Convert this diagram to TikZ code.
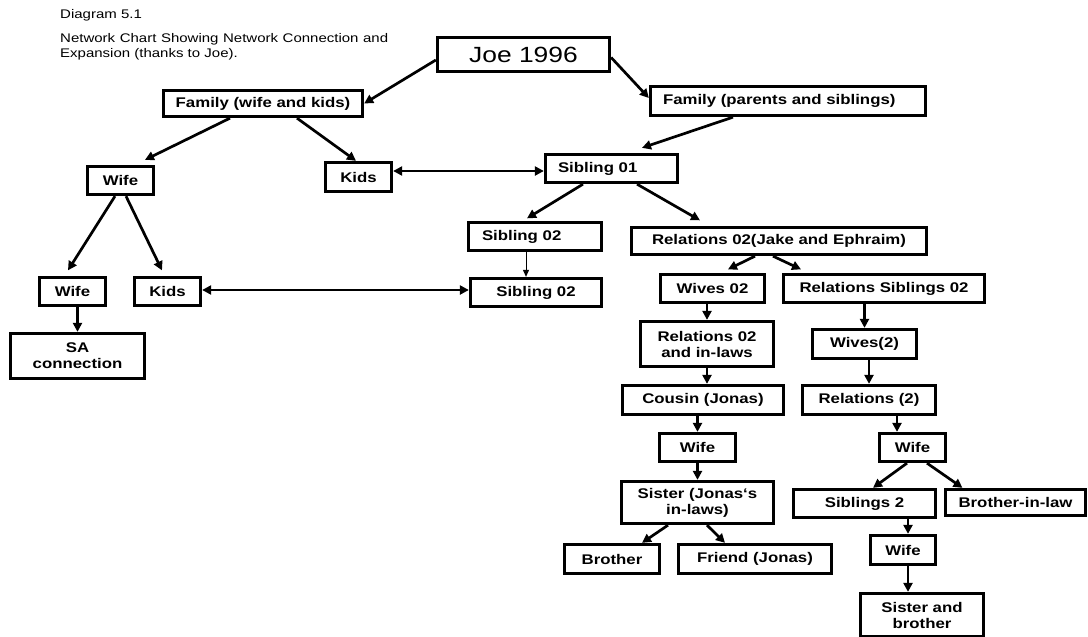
\documentclass[tikz,border=0pt]{standalone}
\usepackage{fontspec}
\setmainfont{Liberation Sans}[FakeStretch=1.2]
\usetikzlibrary{arrows.meta}

\begin{document}
\begin{tikzpicture}[x=1pt, y=-1pt, >={Triangle[length=9pt,width=9pt]},
	box/.style={draw=black, line width=3.3pt, inner sep=0pt, align=center, font=\bfseries\fontsize{14}{16}\selectfont},
	arr/.style={->, line width=2.7pt},
	dblarr/.style={<->, line width=2.7pt},
	thinarr/.style={-{Triangle[length=7pt,width=6pt]}, line width=1pt}]
	\useasboundingbox (0,0) rectangle (1088,637);

	\node[anchor=base west, inner sep=0pt, font=\fontsize{12.5}{15}\selectfont] (diag) at (60,19) {Diagram 5.1};
	\node[anchor=north west, inner sep=0pt, text width=328pt, align=justify, font=\fontsize{12.5}{15}\selectfont] (caption) at (60,33) {Network Chart Showing Network Connection and\linebreak Expansion (thanks to Joe).};

	\node[box, font=\fontsize{22}{26}\selectfont, minimum width=172pt, minimum height=34pt] (joe) at (523.5,54.5) {Joe 1996};
	\node[box, minimum width=199pt, minimum height=26pt] (famwk) at (263,103.5) {Family (wife and kids)};
	\node[box, minimum width=275pt, minimum height=29pt, text width=250pt, align=left] (fampar) at (788,101) {Family (parents and siblings)};
	\node[box, minimum width=66pt, minimum height=28pt] (wife1) at (120.5,180.5) {Wife};
	\node[box, minimum width=66pt, minimum height=29pt] (kids1) at (358.5,177) {Kids};
	\node[box, minimum width=132pt, minimum height=28pt, text width=107pt, align=left] (sib01) at (611.5,168.5) {Sibling 01};
	\node[box, minimum width=133pt, minimum height=28pt, text width=106pt, align=left] (sib02a) at (535,236.5) {Sibling 02};
	\node[box, minimum width=131pt, minimum height=28pt] (sib02b) at (536,292.5) {Sibling 02};
	\node[box, minimum width=295pt, minimum height=27pt] (rel02) at (779,241) {Relations 02(Jake and Ephraim)};
	\node[box, minimum width=66pt, minimum height=28pt] (wife2) at (72.5,291.5) {Wife};
	\node[box, minimum width=66pt, minimum height=28pt] (kids2) at (167.5,291.5) {Kids};
	\node[box, minimum width=134pt, minimum height=45pt] (sa) at (77.5,356) {SA\\connection};
	\node[box, minimum width=104pt, minimum height=28pt] (wives02) at (712.5,288.5) {Wives 02};
	\node[box, minimum width=201pt, minimum height=28pt] (relsib) at (884,288.5) {Relations Siblings 02};
	\node[box, minimum width=133pt, minimum height=45pt] (relinl) at (707,344) {Relations 02\\and in-laws};
	\node[box, minimum width=104pt, minimum height=29pt] (wives2) at (864.5,344) {Wives(2)};
	\node[box, minimum width=161pt, minimum height=29pt] (cousin) at (703,400) {Cousin (Jonas)};
	\node[box, minimum width=133pt, minimum height=29pt] (rel2) at (869,400) {Relations (2)};
	\node[box, minimum width=76pt, minimum height=28pt] (wife3) at (697.5,447.5) {Wife};
	\node[box, minimum width=66pt, minimum height=28pt] (wife4) at (912.5,447.5) {Wife};
	\node[box, minimum width=152pt, minimum height=42pt] (sister) at (697.5,502.5) {Sister (Jonas‘s\\in-laws)};
	\node[box, minimum width=142pt, minimum height=28pt] (sib2) at (864.5,503.5) {Siblings 2};
	\node[box, minimum width=140pt, minimum height=26pt] (bil) at (1015.5,502.5) {Brother-in-law};
	\node[box, minimum width=95pt, minimum height=29pt] (brother) at (612,559) {Brother};
	\node[box, minimum width=153pt, minimum height=29pt] (friend) at (755,559) {Friend (Jonas)};
	\node[box, minimum width=65pt, minimum height=29pt] (wife5) at (903,550) {Wife};
	\node[box, minimum width=123pt, minimum height=43pt] (sisbro) at (922,615) {Sister and\\brother};

	\path[arr] ([yshift=-5.5pt]joe.west) edge (famwk.east)
	         ([yshift=-3pt]joe.east) edge ([yshift=3pt]fampar.west)
	         ([xshift=-55pt]fampar.south) edge ([xshift=30.5pt,yshift=5pt]sib01.north)
	         ([xshift=-33pt]famwk.south) edge ([xshift=24.5pt,yshift=5pt]wife1.north)
	         ([xshift=34pt]famwk.south) edge ([xshift=-2.5pt]kids1.north)
	         ([xshift=-5.5pt]wife1.south) edge ([xshift=-4.5pt,yshift=5.5pt]wife2.north)
	         ([xshift=5.5pt]wife1.south) edge ([xshift=-5.5pt,yshift=5.5pt]kids2.north)
	         (wife2.south -| sa.north) edge (sa.north)
	         ([xshift=-28.5pt]sib01.south) edge ([xshift=-8pt,yshift=2.5pt]sib02a.north)
	         ([xshift=25.5pt]sib01.south) edge ([xshift=-79pt,yshift=5.5pt]rel02.north)
	         ([xshift=-24pt]rel02.south) edge ([xshift=15.5pt,yshift=3.5pt]wives02.north)
	         ([xshift=-6pt]rel02.south) edge ([xshift=-83pt,yshift=3.5pt]relsib.north)
	         (wives02.south -| relinl.north) edge (relinl.north)
	         (relsib.south -| wives2.north) edge (wives2.north)
	         (relinl.south) edge (relinl.south |- cousin.north)
	         (rel2.north |- wives2.south) edge (rel2.north)
	         (wife3.north |- cousin.south) edge (wife3.north)
	         ([xshift=-15.5pt]wife4.north |- rel2.south) edge ([xshift=-15.5pt]wife4.north)
	         (wife3.south) edge (sister.north)
	         ([xshift=-5.5pt]wife4.south) edge ([xshift=8.5pt]sib2.north)
	         ([xshift=14.5pt]wife4.south) edge ([xshift=-53pt]bil.north)
	         ([xshift=-29.5pt]sister.south) edge ([xshift=30pt]brother.north)
	         ([xshift=9.5pt]sister.south) edge ([xshift=-30pt]friend.north)
	         ([xshift=5pt]wife5.north |- sib2.south) edge ([xshift=5pt]wife5.north)
	         ([xshift=5pt]wife5.south) edge ([xshift=5pt]wife5.south |- sisbro.north);

	\path[dblarr] ([yshift=6pt]kids1.east) edge ([yshift=-2.5pt]sib01.west)
	         ([yshift=1.5pt]kids2.east) edge ([yshift=1.5pt]kids2.east -| sib02b.west);

	\path[thinarr] ([xshift=-9pt]sib02a.south) edge ([xshift=-9pt]sib02a.south |- sib02b.north);

\end{tikzpicture}
\end{document}
